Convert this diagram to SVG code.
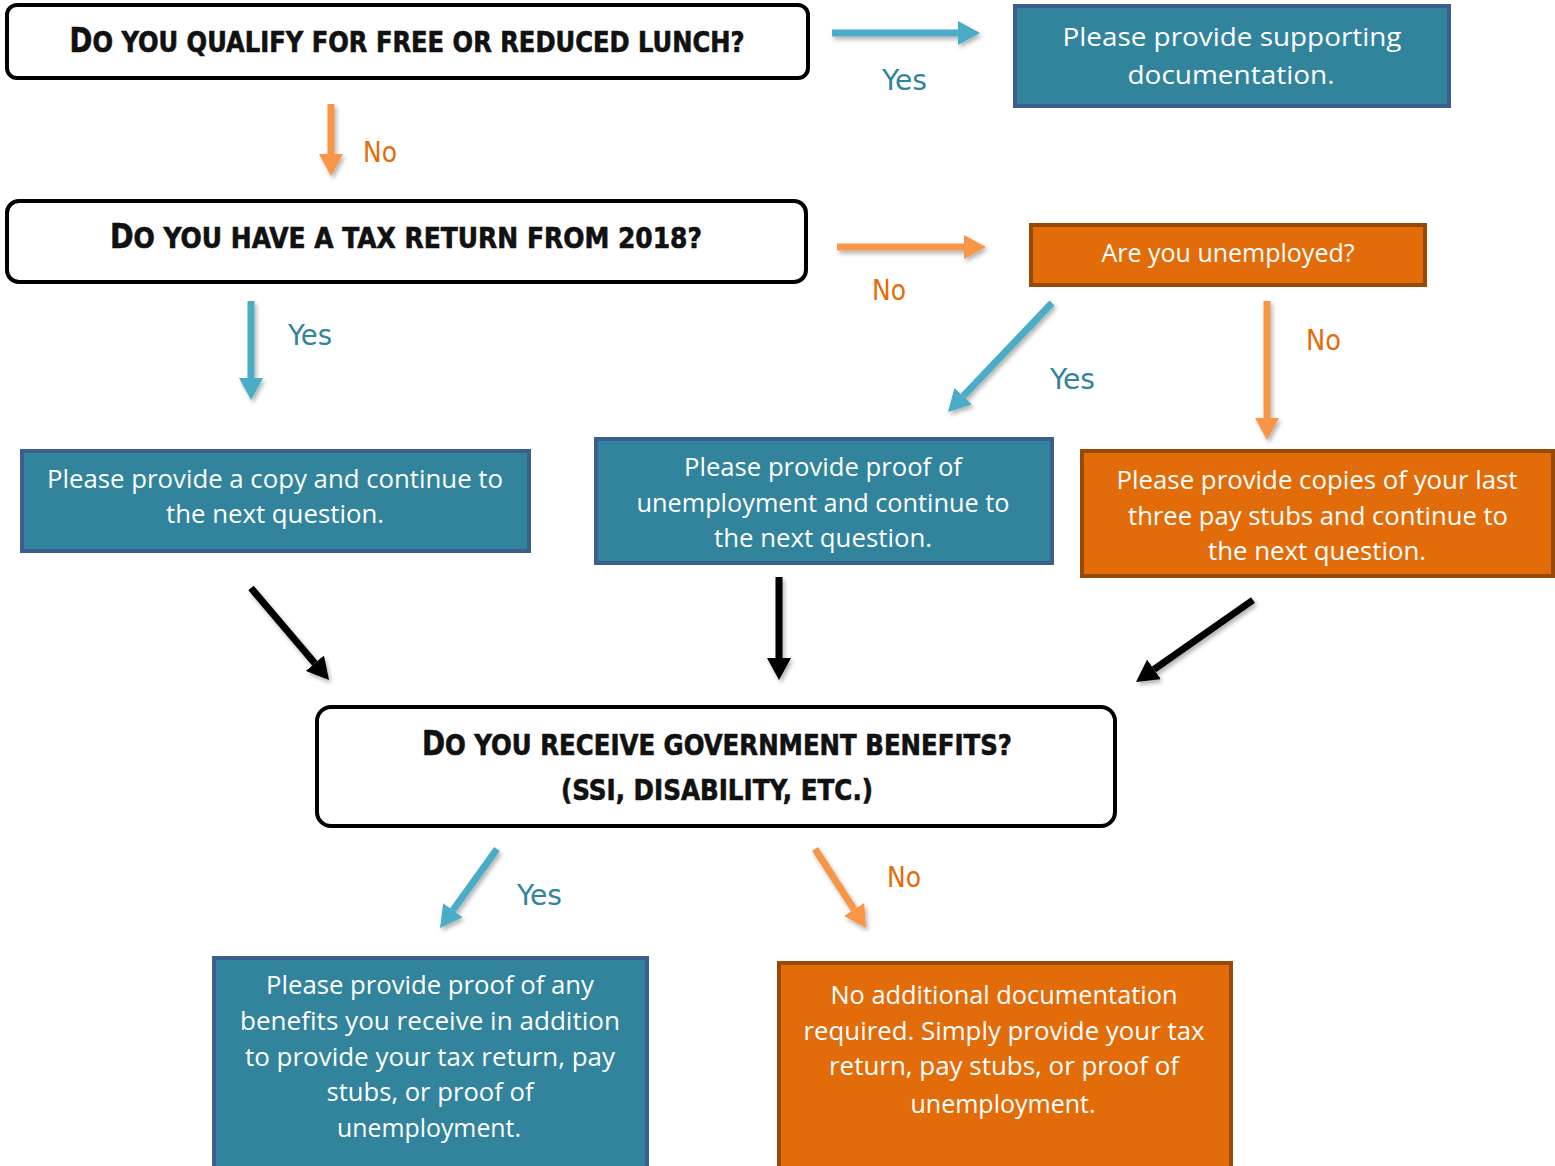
<svg xmlns="http://www.w3.org/2000/svg" width="1555" height="1166" viewBox="0 0 1555 1166">
<defs>
<style>
.q{fill:#fff;stroke:#000;stroke-width:4}
.tb{fill:#31849b;stroke:#3b5e8c;stroke-width:4}
.ob{fill:#e36c0a;stroke:#984807;stroke-width:4}
.h{font-family:"DejaVu Sans Condensed","Liberation Sans Narrow","Liberation Sans",sans-serif;font-weight:bold;font-size:29px;fill:#111;text-anchor:middle;stroke:#111;stroke-width:0.6}
.b{font-family:"Open Sans","Noto Sans","Liberation Sans",sans-serif;font-size:25px;fill:#fff;text-anchor:middle}
.ly{font-family:"Liberation Sans Narrow","DejaVu Sans Condensed","Liberation Sans",sans-serif;font-size:28px;fill:#31849b}
.ln{font-family:"Liberation Sans Narrow","DejaVu Sans Condensed","Liberation Sans",sans-serif;font-size:28px;fill:#e36c0a}
.at{stroke:#4bacc6;stroke-width:7;fill:none}
.ao{stroke:#f79646;stroke-width:7;fill:none}
.ak{stroke:#000;stroke-width:7;fill:none}
</style>
<marker id="mt" viewBox="0 -12 22 24" markerWidth="22" markerHeight="24" refX="0" refY="0" orient="auto" markerUnits="userSpaceOnUse"><path d="M0,-12 L22,0 L0,12 z" fill="#4bacc6"/></marker>
<marker id="mo" viewBox="0 -12 22 24" markerWidth="22" markerHeight="24" refX="0" refY="0" orient="auto" markerUnits="userSpaceOnUse"><path d="M0,-12 L22,0 L0,12 z" fill="#f79646"/></marker>
<marker id="mk" viewBox="0 -12 22 24" markerWidth="22" markerHeight="24" refX="0" refY="0" orient="auto" markerUnits="userSpaceOnUse"><path d="M0,-12 L22,0 L0,12 z" fill="#000"/></marker>
<filter id="sh" x="-20%" y="-20%" width="140%" height="140%"><feDropShadow dx="2" dy="3" stdDeviation="2" flood-color="#000" flood-opacity="0.3"/></filter>
</defs>
<rect width="1555" height="1166" fill="#fff"/>

<g id="connectors" filter="url(#sh)">
<line class="at" x1="832" y1="33" x2="958" y2="33" marker-end="url(#mt)"/>
<line class="ao" x1="331" y1="104" x2="331" y2="154" marker-end="url(#mo)"/>
<line class="ao" x1="837" y1="247" x2="964" y2="247" marker-end="url(#mo)"/>
<line class="at" x1="251" y1="301" x2="251" y2="378" marker-end="url(#mt)"/>
<line class="at" x1="1052" y1="303" x2="963.2" y2="396.1" marker-end="url(#mt)"/>
<line class="ao" x1="1267" y1="301" x2="1267" y2="418" marker-end="url(#mo)"/>
<line class="ak" x1="251" y1="588" x2="314.8" y2="663.2" marker-end="url(#mk)"/>
<line class="ak" x1="779" y1="577" x2="779" y2="658" marker-end="url(#mk)"/>
<line class="ak" x1="1253" y1="600" x2="1154" y2="669.4" marker-end="url(#mk)"/>
<line class="at" x1="497" y1="849" x2="452.9" y2="910.2" marker-end="url(#mt)"/>
<line class="ao" x1="815" y1="849" x2="854.1" y2="909.5" marker-end="url(#mo)"/>
</g>

<g id="labels">
<text class="ly" x="882" y="90" textLength="45" lengthAdjust="spacingAndGlyphs">Yes</text>
<text class="ln" x="363" y="162" textLength="34" lengthAdjust="spacingAndGlyphs">No</text>
<text class="ln" x="872" y="300" textLength="34" lengthAdjust="spacingAndGlyphs">No</text>
<text class="ly" x="288" y="345" textLength="44" lengthAdjust="spacingAndGlyphs">Yes</text>
<text class="ln" x="1306" y="350" textLength="35" lengthAdjust="spacingAndGlyphs">No</text>
<text class="ly" x="1050" y="389" textLength="45" lengthAdjust="spacingAndGlyphs">Yes</text>
<text class="ly" x="517" y="905" textLength="45" lengthAdjust="spacingAndGlyphs">Yes</text>
<text class="ln" x="887" y="887" textLength="34" lengthAdjust="spacingAndGlyphs">No</text>
</g>

<g id="q-lunch">
<rect class="q" x="7" y="5" width="801" height="73" rx="10"/>
<text class="h" x="407" y="52" textLength="675" lengthAdjust="spacingAndGlyphs"><tspan font-size="33">D</tspan>O YOU QUALIFY FOR FREE OR REDUCED LUNCH?</text>
</g>

<g id="supporting-doc">
<rect class="tb" x="1015" y="6" width="434" height="100"/>
<text class="b" x="1232" y="46" textLength="339" lengthAdjust="spacingAndGlyphs">Please provide supporting</text>
<text class="b" x="1231" y="84" textLength="207" lengthAdjust="spacingAndGlyphs">documentation.</text>
</g>

<g id="q-tax">
<rect class="q" x="7" y="201" width="799" height="81" rx="12"/>
<text class="h" x="406" y="248" textLength="592" lengthAdjust="spacingAndGlyphs"><tspan font-size="33">D</tspan>O YOU HAVE A TAX RETURN FROM 2018?</text>
</g>

<g id="q-unemployed">
<rect class="ob" x="1031" y="225" width="394" height="60"/>
<text class="b" x="1228" y="262" textLength="253" lengthAdjust="spacingAndGlyphs">Are you unemployed?</text>
</g>

<g id="copy-tax">
<rect class="tb" x="22" y="451" width="507" height="100"/>
<text class="b" x="275" y="488" textLength="456" lengthAdjust="spacingAndGlyphs">Please provide a copy and continue to</text>
<text class="b" x="275" y="523" textLength="218" lengthAdjust="spacingAndGlyphs">the next question.</text>
</g>

<g id="proof-unemployment">
<rect class="tb" x="596" y="439" width="456" height="124"/>
<text class="b" x="823" y="476" textLength="278" lengthAdjust="spacingAndGlyphs">Please provide proof of</text>
<text class="b" x="823" y="512" textLength="373" lengthAdjust="spacingAndGlyphs">unemployment and continue to</text>
<text class="b" x="823" y="547" textLength="218" lengthAdjust="spacingAndGlyphs">the next question.</text>
</g>

<g id="pay-stubs">
<rect class="ob" x="1082" y="451" width="471" height="125"/>
<text class="b" x="1317" y="489" textLength="401" lengthAdjust="spacingAndGlyphs">Please provide copies of your last</text>
<text class="b" x="1318" y="525" textLength="380" lengthAdjust="spacingAndGlyphs">three pay stubs and continue to</text>
<text class="b" x="1317" y="560" textLength="218" lengthAdjust="spacingAndGlyphs">the next question.</text>
</g>

<g id="q-benefits">
<rect class="q" x="317" y="707" width="798" height="119" rx="14"/>
<text class="h" x="717" y="755" textLength="590" lengthAdjust="spacingAndGlyphs"><tspan font-size="33">D</tspan>O YOU RECEIVE GOVERNMENT BENEFITS?</text>
<text class="h" x="717" y="800" textLength="312" lengthAdjust="spacingAndGlyphs">(SSI, DISABILITY, ETC.)</text>
</g>

<g id="proof-benefits">
<rect class="tb" x="214" y="958" width="433" height="215"/>
<text class="b" x="430" y="994" textLength="328" lengthAdjust="spacingAndGlyphs">Please provide proof of any</text>
<text class="b" x="430" y="1030" textLength="380" lengthAdjust="spacingAndGlyphs">benefits you receive in addition</text>
<text class="b" x="430" y="1066" textLength="370" lengthAdjust="spacingAndGlyphs">to provide your tax return, pay</text>
<text class="b" x="430" y="1101" textLength="207" lengthAdjust="spacingAndGlyphs">stubs, or proof of</text>
<text class="b" x="429" y="1137" textLength="184" lengthAdjust="spacingAndGlyphs">unemployment.</text>
</g>

<g id="no-additional">
<rect class="ob" x="779" y="963" width="452" height="210"/>
<text class="b" x="1004" y="1004" textLength="347" lengthAdjust="spacingAndGlyphs">No additional documentation</text>
<text class="b" x="1004" y="1040" textLength="401" lengthAdjust="spacingAndGlyphs">required. Simply provide your tax</text>
<text class="b" x="1004" y="1075" textLength="350" lengthAdjust="spacingAndGlyphs">return, pay stubs, or proof of</text>
<text class="b" x="1003" y="1113" textLength="185" lengthAdjust="spacingAndGlyphs">unemployment.</text>
</g>
</svg>
